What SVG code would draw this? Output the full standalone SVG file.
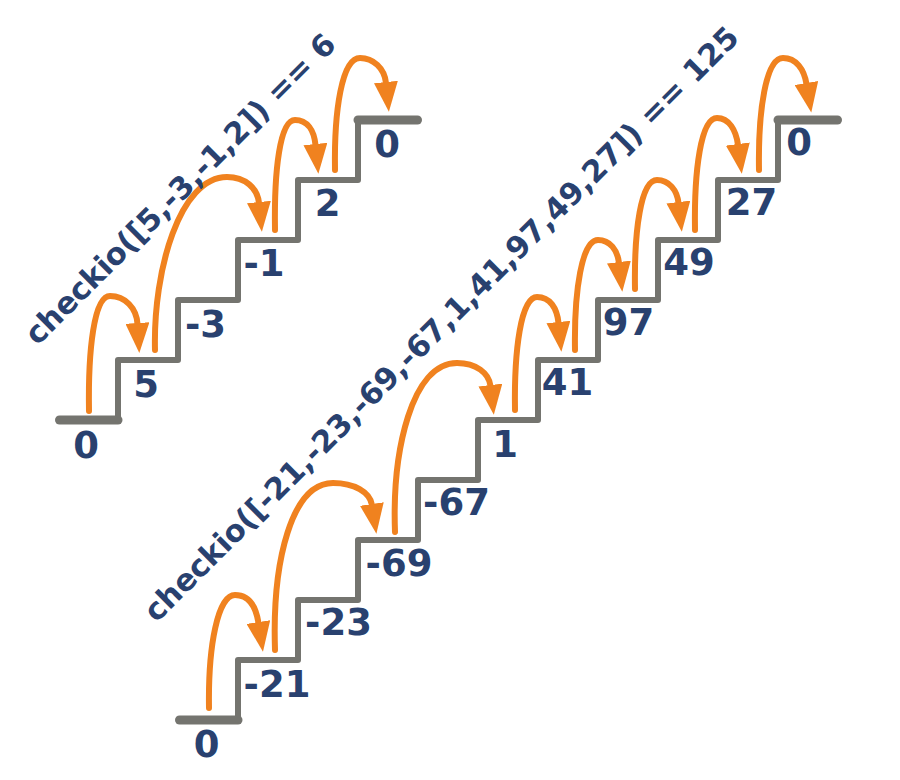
<svg xmlns="http://www.w3.org/2000/svg" width="900" height="780" viewBox="0 0 900 780">
<style>
.stair{fill:none;stroke:#74746f;stroke-width:6;stroke-linejoin:round;stroke-linecap:round}
.land{fill:none;stroke:#74746f;stroke-width:9;stroke-linecap:round}
.jump{fill:none;stroke:#f0821f;stroke-width:6;stroke-linecap:round;marker-end:url(#ah)}
.lbl{font-family:"DejaVu Sans","Verdana",sans-serif;font-weight:bold;font-size:37px;fill:#29416f;text-anchor:middle}
.title{font-family:"DejaVu Sans","Verdana",sans-serif;font-weight:bold;font-size:30.5px;fill:#29416f}
</style>
<defs>
<marker id="ah" viewBox="0 -12 30 24" refX="1" refY="0" markerWidth="30" markerHeight="24" markerUnits="userSpaceOnUse" orient="auto">
<path d="M0,-12 L30,0 L0,12 Z" fill="#f0821f"/>
</marker>
</defs>
<rect width="900" height="780" fill="#ffffff"/>

<g id="stairs-left">
<path class="land" d="M59.5 420 H118"/>
<path class="stair" d="M118 420 V360 H178 V300 H238 V240 H298 V180 H358 V120"/>
<path class="land" d="M358 120 H417.5"/>
</g>
<g id="stairs-right">
<path class="land" d="M179.5 720 H238"/>
<path class="stair" d="M238 720 V660 H298 V600 H358 V540 H418 V480 H478 V420 H538 V360 H598 V300 H658 V240 H718 V180 H778 V120"/>
<path class="land" d="M778 120 H837.5"/>
</g>

<g id="connectors">
<path class="jump" d="M89 411 C88 350 94 296 110 296 C125 296 136.5 308 137.5 324"/>
<path class="jump" d="M155 350 C153 270 180 177 227 177 C245 177 257.5 188 259 203"/>
<path class="jump" d="M275 230 C274 170 280 120 295 120 C307 120 314 130 315.5 145"/>
<path class="jump" d="M335 170 C334 110 342 58 360 58 C373 58 384.5 68 386 83"/>
<path class="jump" d="M209 708 C208 645 218 595 235 595 C249 595 256 607 258.5 623"/>
<path class="jump" d="M275 650 C272 560 292 483 333 483 C354 483 370 492 372 505"/>
<path class="jump" d="M395 532 C392 450 412 363 457 363 C476 363 489 373 490.5 386"/>
<path class="jump" d="M515 410 C514 350 521 297 537 297 C550 297 557 308 558.5 323"/>
<path class="jump" d="M575 350 C574 290 582 240 598 240 C610 240 617.5 250 619 263"/>
<path class="jump" d="M635 289 C634 230 641 180 657 180 C669 180 677 190 678.5 203"/>
<path class="jump" d="M695 230 C694 170 701 118 717 118 C729 118 736 130 738 145"/>
<path class="jump" d="M759 170 C758 110 766 58 783 58 C796 58 804 69 806.5 84"/>
</g>

<g id="labels-left">
<text class="lbl" x="86" y="458">0</text>
<text class="lbl" x="146" y="397">5</text>
<text class="lbl" x="205.5" y="337">-3</text>
<text class="lbl" x="264" y="276">-1</text>
<text class="lbl" x="327.5" y="216">2</text>
<text class="lbl" x="387" y="157">0</text>
</g>
<g id="labels-right">
<text class="lbl" x="206.5" y="757">0</text>
<text class="lbl" x="277" y="697">-21</text>
<text class="lbl" x="338.5" y="635">-23</text>
<text class="lbl" x="399" y="576">-69</text>
<text class="lbl" x="456.5" y="515">-67</text>
<text class="lbl" x="505" y="457">1</text>
<text class="lbl" x="567.5" y="395">41</text>
<text class="lbl" x="628.5" y="335">97</text>
<text class="lbl" x="689" y="275">49</text>
<text class="lbl" x="751.5" y="215">27</text>
<text class="lbl" x="799" y="155">0</text>
</g>

<g id="title-left">
<text class="title" transform="translate(37.5,346.5) rotate(-45)">checkio([5,-3,-1,2]) == 6</text>
</g>
<g id="title-right">
<text class="title" transform="translate(156.5,623.5) rotate(-45)">checkio([-21,-23,-69,-67,1,41,97,49,27]) == 125</text>
</g>
</svg>
